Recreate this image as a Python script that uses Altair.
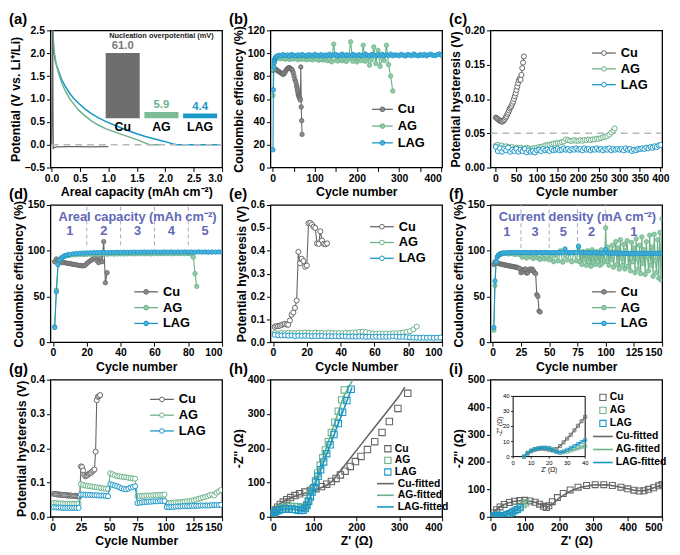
import altair as alt
import pandas as pd

FONT = "Liberation Sans"
CU, AG, LAG = "#666666", "#6cb289", "#1a96c7"
CU_F, AG_F, LAG_F = "#8c8c8c", "#92cba8", "#4db3dc"
REFGRAY = "#b8b8b8"
PURPLE = "#6268b6"
DASHV = "#a8a8c8"
W, H = 174, 139
ONE = pd.DataFrame({"k": [0]})

# ---------------- (a) potential vs areal capacity ----------------
a_cu_cap = [0.0, 0.02, 0.025, 0.03, 0.05, 0.10, 0.30, 0.50, 0.70, 0.90, 1.00]
a_cu_v = [-0.02, 2.60, 0.60, -0.08, -0.06, -0.05, -0.045, -0.045, -0.05, -0.045, -0.045]
a_ag_cap = [0.02, 0.03, 0.05, 0.08, 0.12, 0.18, 0.24, 0.32, 0.40, 0.48, 0.58, 0.70, 0.82,
            0.95, 1.08, 1.22, 1.36, 1.50, 1.62, 1.72, 1.90]
a_ag_v = [2.60, 2.30, 2.00, 1.78, 1.58, 1.35, 1.18, 1.00, 0.87, 0.75, 0.64, 0.52, 0.43,
          0.35, 0.29, 0.23, 0.17, 0.11, 0.05, 0.00, 0.00]
a_lag_cap = [0.01, 0.02, 0.04, 0.07, 0.12, 0.18, 0.24, 0.32, 0.40, 0.48, 0.58, 0.70, 0.82,
             0.95, 1.08, 1.22, 1.36, 1.50, 1.65, 1.80, 1.95, 2.05, 2.12, 2.20, 3.00]
a_lag_v = [2.60, 2.30, 2.00, 1.80, 1.62, 1.42, 1.28, 1.12, 1.00, 0.90, 0.79, 0.68, 0.59,
           0.51, 0.44, 0.37, 0.30, 0.24, 0.18, 0.13, 0.08, 0.05, 0.02, 0.00, 0.00]
a_zero_x = [0.0, 3.0]
a_zero_y = [0.0, 0.0]
nuc_cat = ["Cu", "AG", "LAG"]
nuc_val = [61.0, 5.9, 4.4]
nuc_txt = ["61.0", "5.9", "4.4"]

# ---------------- (b) CE, 400 cycles ----------------
b_cu_cyc = list(range(1, 56, 2)) + list(range(57, 71))
b_cu_ce = [85, 86, 86.5, 86, 85.5, 85, 84.5, 84, 83.5, 83, 82.5, 82, 81.5, 82, 83, 84.5,
           85.5, 86.5, 87, 87.5, 87, 86.5, 86, 85, 83, 80, 77, 75,
           72, 70, 68, 66, 64, 63, 62, 61, 60, 59, 88, 53, 41, 29]
b_ag_cyc = list(range(1, 11)) + list(range(15, 286, 5))
b_ag_ce = [63, 86, 91, 93, 94, 94.5, 95, 95, 95.5, 95.5,
           95.8, 95.2, 96.0, 94.8, 95.5, 94.6, 95.3, 94.9, 95.6, 94.4,
           95.1, 94.7, 95.4, 94.3, 95.0, 94.8, 94.2, 95.2, 94.6, 93.9,
           94.8, 94.1, 95.0, 93.6, 94.5, 92.5, 108.0, 94.0, 93.2, 95.1,
           93.4, 94.7, 92.8, 95.0, 110.0, 93.0, 96.5, 92.4, 94.8, 93.6,
           107.0, 93.0, 96.0, 89.5, 94.5, 105.5, 91.0, 102.5, 88.5, 96.0,
           93.5, 107.0, 90.0, 80.0, 67.0]
b_lag_cyc = list(range(1, 11)) + list(range(15, 401, 5))
b_lag_ce = [15.5, 68, 88, 92, 94, 95.5, 96, 96.5, 97, 97.5,
            98.2, 97.6, 98.8, 97.9, 98.5, 97.4, 98.9, 98.1, 97.7, 98.6,
            97.8, 98.9, 98.0, 97.5, 98.7, 98.3, 97.6, 99.0, 98.2, 97.9,
            98.8, 97.4, 98.5, 98.0, 99.1, 97.7, 98.4, 98.9, 97.6, 98.2,
            99.2, 97.8, 98.6, 98.1, 97.5, 99.0, 98.3, 97.9, 98.7, 98.0,
            97.6, 99.3, 98.2, 97.8, 98.9, 98.4, 97.5, 98.8, 98.1, 99.1,
            97.9, 98.5, 98.0, 99.2, 97.7, 98.6, 98.3, 97.8, 99.0, 98.2,
            97.6, 98.9, 98.4, 97.9, 99.3, 98.1, 97.7, 98.8, 98.0, 99.0,
            97.8, 98.6, 99.2, 98.1, 97.9, 98.7, 99.4, 98.3]

# ---------------- (c) hysteresis, 400 cycles ----------------
c_cu_cyc = list(range(1, 70, 2))
c_cu_hys = [0.073, 0.072, 0.071, 0.070, 0.069, 0.068, 0.068, 0.067, 0.067, 0.068, 0.069,
            0.071, 0.073, 0.075, 0.078, 0.080, 0.083, 0.086, 0.088, 0.090, 0.093, 0.096,
            0.100, 0.104, 0.108, 0.113, 0.118, 0.123, 0.127, 0.130, 0.128, 0.135, 0.145,
            0.153, 0.162]
c_ag_cyc = list(range(1, 287, 5)) + [289]
c_ag_hys = [0.032, 0.033, 0.031, 0.032, 0.030, 0.031, 0.030, 0.029, 0.030, 0.028,
            0.029, 0.028, 0.029, 0.027, 0.028, 0.029, 0.028, 0.027, 0.028, 0.028,
            0.029, 0.030, 0.030, 0.031, 0.032, 0.033, 0.033, 0.034, 0.035, 0.035,
            0.036, 0.036, 0.037, 0.038, 0.041, 0.040, 0.039, 0.039, 0.040, 0.039,
            0.039, 0.040, 0.039, 0.040, 0.040, 0.041, 0.040, 0.041, 0.041, 0.042,
            0.042, 0.043, 0.044, 0.045, 0.046, 0.048, 0.051, 0.054, 0.057]
c_lag_cyc = list(range(1, 401, 5)) + [400]
c_lag_hys = [0.030, 0.024, 0.028, 0.023, 0.027, 0.025, 0.029, 0.023, 0.026, 0.024,
             0.027, 0.023, 0.026, 0.024, 0.027, 0.022, 0.025, 0.023, 0.024, 0.022,
             0.025, 0.026, 0.024, 0.027, 0.025, 0.026, 0.024, 0.027, 0.025, 0.026,
             0.027, 0.025, 0.026, 0.028, 0.026, 0.027, 0.025, 0.027, 0.026, 0.028,
             0.026, 0.027, 0.025, 0.028, 0.026, 0.027, 0.025, 0.027, 0.026, 0.028,
             0.026, 0.027, 0.025, 0.027, 0.026, 0.028, 0.025, 0.027, 0.026, 0.027,
             0.026, 0.027, 0.025, 0.028, 0.026, 0.027, 0.024, 0.026, 0.025, 0.027,
             0.027, 0.028, 0.027, 0.029, 0.028, 0.030, 0.029, 0.031, 0.030, 0.032,
             0.033]

# ---------------- (d) CE, areal capacity steps ----------------
d_cu_cyc = list(range(1, 33))
d_cu_ce = [88, 91, 89, 88, 87.5, 87, 87, 86.5, 86, 86, 85.5, 85, 85, 84.5, 84, 84, 83.5,
           83.5, 84, 86, 87.5, 89, 90, 91.5, 93, 89, 87, 92, 88, 110, 65, 76]
d_ag_cyc = list(range(1, 11)) + list(range(12, 81, 2)) + list(range(81, 86))
d_ag_ce = [17, 57, 85, 90, 92, 93, 94, 94.5, 95, 95,
           95.5, 95.5, 96, 95.8, 96, 96.2, 96, 96.3, 96.1, 96.4, 96.2, 96.5, 96.3, 96.4,
           96.6, 96.4, 96.5, 96.7, 96.5, 96.6, 96.8, 96.6, 96.7, 96.5, 96.8, 96.6, 96.9,
           96.7, 96.8, 96.6, 96.9, 96.8, 97.0, 96.8, 96.9,
           96.8, 96.5, 93, 75, 61]
d_lag_cyc = list(range(1, 11)) + list(range(12, 101, 2))
d_lag_ce = [16, 55, 85, 90, 92, 93.5, 94.5, 95, 95.5, 96,
            96.5, 97, 97.2, 97.5, 97.6, 97.8, 97.9, 98, 98, 98.1,
            98, 98.2, 98.1, 98.3, 98.2, 98.4, 98.2, 98.3, 98.5, 98.3,
            98.4, 98.6, 98.4, 98.5, 98.7, 98.5, 98.4, 98.6, 98.5, 98.7,
            98.4, 98.6, 98.5, 98.7, 98.5, 98.6, 98.4, 98.7, 98.5, 98.6,
            98.4, 98.6, 98.5, 98.7, 98.5]
d_step_x = [20, 40, 60, 80]
d_num_x = [10, 30, 50, 70, 90]
d_num_t = ["1", "2", "3", "4", "5"]

# ---------------- (e) hysteresis, areal capacity steps ----------------
e_cu_cyc = list(range(1, 33))
e_cu_hys = [0.067, 0.070, 0.070, 0.072, 0.075, 0.078, 0.080, 0.077, 0.076, 0.095,
            0.120, 0.130, 0.150, 0.182, 0.395, 0.345, 0.365, 0.355, 0.330, 0.335,
            0.520, 0.522, 0.515, 0.505, 0.500, 0.432, 0.430, 0.485, 0.445, 0.430,
            0.428, 0.432]
e_ag_cyc = list(range(1, 86, 2))
e_ag_hys = [0.040, 0.038, 0.040, 0.039, 0.041, 0.040, 0.039, 0.041, 0.040, 0.042,
            0.041, 0.040, 0.042, 0.041, 0.040, 0.039, 0.041, 0.040, 0.039, 0.040,
            0.039, 0.041, 0.040, 0.042, 0.043, 0.045, 0.046, 0.044, 0.040, 0.038,
            0.037, 0.038, 0.037, 0.038, 0.037, 0.039, 0.038, 0.040, 0.042, 0.045,
            0.048, 0.056, 0.068]
e_lag_cyc = list(range(1, 101, 2))
e_lag_hys = [0.032, 0.030, 0.029, 0.030, 0.028, 0.029, 0.027, 0.028, 0.027, 0.028,
             0.027, 0.026, 0.027, 0.026, 0.027, 0.025, 0.026, 0.025, 0.026, 0.025,
             0.026, 0.025, 0.024, 0.025, 0.024, 0.025, 0.024, 0.023, 0.024, 0.023,
             0.024, 0.023, 0.024, 0.023, 0.024, 0.025, 0.024, 0.023, 0.024, 0.022,
             0.021, 0.020, 0.020, 0.019, 0.020, 0.019, 0.020, 0.019, 0.020, 0.020]

# ---------------- (f) CE, current density steps ----------------
f_cu_cyc = list(range(1, 43))
f_cu_ce = [85, 88, 87, 86.5, 86, 86, 85.5, 85, 85, 84.5, 84.5, 84, 84, 83.5, 83.5, 83, 83,
           82.5, 82.5, 82, 82, 81.5, 81, 80.5, 76, 79, 77, 79.5, 80, 75.5, 76, 79, 80,
           78.5, 80, 78, 76, 75, 52, 50, 34, 33]
f_ag_cyc = list(range(1, 11)) + list(range(12, 75, 2)) + list(range(76, 151))
f_ag_ce = [13, 62, 88, 93, 95, 96, 96.5, 96.5, 97, 97,
           97, 96.5, 97, 96.5, 96, 96.5, 96,
           93, 94, 92, 94.5, 93, 91.5, 94, 92, 90.5, 93.5, 91, 92.5, 90,
           94, 88, 95.5, 89, 100, 87.5, 96, 90, 97, 88, 98, 89,
           104, 88, 97, 85, 99, 90, 96, 84, 100, 88, 97, 83, 101, 87, 95, 85, 99, 88, 96,
           84, 101, 86, 97, 89, 125,
           88, 104, 84, 99, 90, 106, 82, 98, 110, 85,
           103, 80, 112, 92, 84, 107, 80, 100, 111, 83,
           96, 78, 109, 88, 103, 76, 113, 91, 80, 106,
           75, 115, 86, 101, 74, 110, 93, 78, 117, 84,
           104, 72, 118, 89, 76, 112, 70, 120, 68, 135]
f_lag_cyc = list(range(1, 11)) + list(range(12, 151, 2))
f_lag_ce = [16, 67, 88, 93, 95, 96, 96.5, 97, 97.5, 97.5,
            97.8, 98.0, 97.9, 98.1, 98.0, 98.2, 98.0, 97.9, 98.1, 98.0,
            97.8, 98.0, 97.9, 98.1, 97.8, 98.0, 97.9, 98.1, 98.0, 97.8,
            97.9, 98.0, 97.8, 98.1, 97.9, 98.0, 102.0, 97.9, 98.1, 97.8,
            98.0, 97.9, 105.0, 97.8, 98.0, 97.7, 97.9, 97.6, 97.8, 97.5,
            97.7, 97.5, 97.6, 97.4, 101.5, 97.5, 97.3, 97.5, 97.2, 97.4,
            97.3, 97.1, 97.3, 97.0, 97.2, 97.1, 97.0, 97.2, 97.0, 97.1,
            97.0, 97.2, 97.0, 96.9, 97.1, 97.0, 96.9, 97.1, 97.0, 97.0]
f_step_x = [25, 50, 75, 100]
f_num_x = [12.5, 37.5, 62.5, 87.5, 125]
f_num_t = ["1", "3", "5", "2", "1"]

# ---------------- (g) hysteresis, current density steps ----------------
g_cu_cyc = list(range(1, 43))
g_cu_hys = [0.067, 0.066, 0.066, 0.065, 0.065, 0.065, 0.064, 0.064, 0.064, 0.063, 0.063,
            0.063, 0.062, 0.062, 0.062, 0.062, 0.061, 0.061, 0.061, 0.061, 0.060, 0.060,
            0.060, 0.060,
            0.147, 0.145, 0.135, 0.122, 0.118, 0.120, 0.122, 0.125, 0.127, 0.128, 0.132,
            0.135, 0.138, 0.190, 0.340, 0.350, 0.352, 0.355]
g_ag_cyc = list(range(1, 150, 2))
g_ag_hys = [0.040, 0.040, 0.039, 0.039, 0.039, 0.038, 0.038, 0.038, 0.038, 0.038, 0.038, 0.038,
            0.095, 0.093, 0.091, 0.090, 0.089, 0.088, 0.087, 0.086, 0.085, 0.084, 0.083, 0.082, 0.081,
            0.127, 0.124, 0.121, 0.119, 0.118, 0.117, 0.116, 0.115, 0.114, 0.113, 0.112, 0.111,
            0.060, 0.060, 0.061, 0.061, 0.062, 0.062, 0.062, 0.063, 0.063, 0.063, 0.064, 0.064, 0.065,
            0.040, 0.040, 0.041, 0.041, 0.042, 0.042, 0.043, 0.043, 0.044, 0.045, 0.046, 0.047,
            0.048, 0.050, 0.052, 0.054, 0.056, 0.058, 0.060, 0.063, 0.065, 0.062, 0.070, 0.074, 0.078]
g_lag_cyc = list(range(1, 150, 2))
g_lag_hys = [0.028, 0.027, 0.027, 0.027, 0.026, 0.026, 0.026, 0.026, 0.026, 0.026, 0.026, 0.026,
             0.065, 0.065, 0.064, 0.064, 0.064, 0.063, 0.063, 0.063, 0.062, 0.062, 0.062, 0.061, 0.060,
             0.095, 0.093, 0.091, 0.089, 0.086, 0.083, 0.081, 0.080, 0.082, 0.085, 0.087, 0.089,
             0.040, 0.041, 0.042, 0.043, 0.043, 0.044, 0.044, 0.045, 0.045, 0.045, 0.046, 0.046, 0.046,
             0.028, 0.028, 0.029, 0.029, 0.030, 0.030, 0.030, 0.031, 0.031, 0.031, 0.031, 0.032,
             0.032, 0.032, 0.032, 0.033, 0.033, 0.033, 0.033, 0.033, 0.034, 0.034, 0.034, 0.034, 0.035]

# ---------------- (h) Nyquist ----------------
h_cu_zre = [5, 8, 12, 17, 23, 30, 38, 47, 57, 68, 80, 93, 106, 119, 131, 142, 153, 163, 174,
            186, 198, 211, 226, 243, 260, 277, 297, 320]
h_cu_zim = [4, 12, 20, 28, 36, 43, 50, 56, 62, 67, 72, 77, 82, 88, 95, 103, 112, 122, 133,
            147, 161, 176, 196, 219, 246, 278, 316, 360]
h_cu_fit_zre = [2, 6, 12, 25, 40, 55, 75, 93, 112, 131, 145, 154, 180, 210, 240, 270, 300, 313]
h_cu_fit_zim = [0, 17, 28, 40, 51, 59, 67, 73, 82, 92, 105, 120, 161, 209, 257, 304, 352, 378]
h_ag_zre = [4, 8, 14, 21, 29, 38, 47, 56, 64, 71, 76, 80, 84, 88, 93, 99, 105, 110, 116, 122,
            128, 135, 142, 150, 158, 166, 172]
h_ag_zim = [4, 11, 18, 23, 27, 29, 30, 30, 29, 27, 26, 28, 35, 45, 62, 82, 105, 127, 150, 172,
            195, 219, 246, 276, 308, 341, 370]
h_ag_fit_zre = [2, 10, 20, 30, 40, 50, 60, 68, 75, 80, 90, 110, 130, 150, 170, 192]
h_ag_fit_zim = [0, 14, 22, 27, 29.5, 30, 29, 27, 26, 28, 50, 125, 200, 275, 350, 400]
h_lag_zre = [3, 6, 10, 15, 21, 28, 35, 43, 51, 58, 65, 71, 76, 81, 85, 89, 93, 97, 101, 106,
             111, 117, 124, 131, 139, 148, 158, 168, 178, 188]
h_lag_zim = [3, 8, 13, 17, 20, 22, 23, 23, 22, 21, 19, 18, 19, 24, 33, 45, 58, 72, 85, 101,
             118, 137, 160, 184, 210, 240, 272, 305, 339, 372]
h_lag_fit_zre = [2, 10, 20, 30, 40, 50, 60, 68, 75, 82, 88, 100, 120, 140, 160, 180, 190]
h_lag_fit_zim = [0, 12, 19, 22, 23, 22.5, 21, 19, 18, 22, 40, 80, 146, 212, 278, 344, 377]

# ---------------- (i) Nyquist wide + inset ----------------
i_cu_zre = [5, 10, 18, 28, 40, 55, 70, 85, 100, 115, 130, 143, 155, 163, 170, 180, 195, 212,
            232, 255, 280, 305, 330, 355, 380, 400, 418, 433, 447, 460, 475, 490, 500]
i_cu_zim = [5, 15, 26, 36, 45, 52, 57, 59, 60, 58, 53, 46, 38, 34, 40, 55, 70, 85, 98, 108,
            114, 117, 117, 114, 108, 102, 97, 94, 95, 100, 106, 113, 118]
i_cu_fit_zre = [0, 10, 25, 45, 70, 100, 130, 150, 165, 180, 200, 230, 260, 300, 340, 380, 420,
                440, 460, 480, 500]
i_cu_fit_zim = [0, 18, 35, 48, 57, 60, 53, 42, 35, 45, 68, 92, 107, 116, 117, 108, 97, 94,
                99, 108, 116]
i_ag_zre = [6, 8, 12, 17, 22, 27, 33, 40, 48, 56, 65, 75, 85, 95, 103]
i_ag_zim = [0, 2, 4, 5.5, 6, 5, 4, 5, 7, 12, 18, 26, 35, 44, 50]
i_lag_zre = [6, 8, 12, 17, 22, 27, 33, 40, 47, 55, 63, 71, 79, 87]
i_lag_zim = [0, 2, 4, 5.5, 6, 4, 3.5, 5, 8, 12, 17, 22, 27, 33]
ins_zre = [6, 8, 10, 12, 14, 16, 18, 20, 22, 24, 26, 28, 30, 32, 34, 36, 38, 40]
ins_cu_zim = [0, 2, 3.5, 4.5, 5, 5.2, 5, 4.5, 4, 5, 7, 9.5, 12, 14.5, 17.5, 20.5, 23.5, 26.5]
ins_ag_zim = [0, 2.5, 4, 5, 5.6, 6, 6, 5.8, 5, 3.5, 2.5, 2.8, 3.3, 4, 4.8, 5.5, 6.3, 7]
ins_lag_zim = [0, 2.5, 4, 5, 5.5, 5.8, 5.8, 5.5, 4.5, 3, 2.8, 3.5, 4.5, 5.8, 7, 8.3, 9.7, 11]
ins_ticks = [0, 10, 20, 30, 40]


# ================= helpers =================
def df_xy(xs, ys):
    n = min(len(xs), len(ys))
    return pd.DataFrame({"x": list(xs)[:n], "y": list(ys)[:n], "i": list(range(n))})


def X(title, domain, values, fmt):
    return alt.X("x:Q", title=title,
                 scale=alt.Scale(domain=domain, nice=False, zero=False),
                 axis=alt.Axis(values=values, format=fmt))


def Y(title, domain, values, fmt):
    return alt.Y("y:Q", title=title,
                 scale=alt.Scale(domain=domain, nice=False, zero=False),
                 axis=alt.Axis(values=values, format=fmt))


def line(df, color, x, y, width=1.1, dash=None):
    kw = dict(color=color, strokeWidth=width, clip=True)
    if dash:
        kw["strokeDash"] = dash
    return alt.Chart(df).mark_line(**kw).encode(x=x, y=y, order="i:Q")


def pts(df, x, y, stroke, fill=None, shape="circle", size=20, sw=0.9):
    kw = dict(shape=shape, size=size, stroke=stroke, strokeWidth=sw, opacity=1, clip=True)
    if fill:
        kw.update(fill=fill, fillOpacity=1, filled=False)
    else:
        kw.update(filled=False)
    return alt.Chart(df).mark_point(**kw).encode(x=x, y=y)


def txt(text, **kw):
    base = dict(text=text, font=FONT, fontWeight="bold", color="black")
    base.update(kw)
    return alt.Chart(ONE).mark_text(**base)


def plabel(t):
    return txt(t, fontSize=15, align="left", baseline="alphabetic").encode(
        x=alt.value(-42), y=alt.value(-6))


def legend_lp(entries, x0, x1, tx, y0, dy, open_marker, fs=13, size=22):
    layers = []
    for k, (lab, col, fil) in enumerate(entries):
        yy = y0 + k * dy
        layers.append(alt.Chart(ONE).mark_rule(color=col, strokeWidth=1.3).encode(
            x=alt.value(x0), x2=alt.value(x1), y=alt.value(yy)))
        layers.append(alt.Chart(ONE).mark_point(
            shape="circle", size=size, stroke=col, strokeWidth=1,
            fill=("white" if open_marker else fil), fillOpacity=1, opacity=1, filled=False
        ).encode(x=alt.value((x0 + x1) / 2), y=alt.value(yy)))
        layers.append(txt(lab, fontSize=fs, align="left", baseline="middle").encode(
            x=alt.value(tx), y=alt.value(yy)))
    return layers


def legend_eis(sq_x, sq_tx, l0, l1, l_tx, y0, dy, fs=10.5):
    layers = []
    sq = [("Cu", CU), ("AG", AG), ("LAG", LAG)]
    for k, (lab, col) in enumerate(sq):
        yy = y0 + k * dy
        layers.append(alt.Chart(ONE).mark_point(shape="square", size=40, stroke=col,
                                                strokeWidth=1.1, filled=False, opacity=1)
                      .encode(x=alt.value(sq_x), y=alt.value(yy)))
        layers.append(txt(lab, fontSize=fs, align="left", baseline="middle").encode(
            x=alt.value(sq_tx), y=alt.value(yy)))
    for k, (lab, col) in enumerate(sq):
        yy = y0 + (k + 3) * dy
        layers.append(alt.Chart(ONE).mark_rule(color=col, strokeWidth=1.6).encode(
            x=alt.value(l0), x2=alt.value(l1), y=alt.value(yy)))
        layers.append(txt(lab + "-fitted", fontSize=fs, align="left", baseline="middle").encode(
            x=alt.value(l_tx), y=alt.value(yy)))
    return layers


def cycle_panel(series, x, y, filled, leg, label, under=()):
    layers = list(under)
    for cyc, vals, col, fil in series:
        d = df_xy(cyc, vals)
        layers.append(line(d, col, x, y, width=1.1))
        if filled:
            layers.append(pts(d, x, y, col, fill=fil, size=20, sw=0.8))
        else:
            layers.append(pts(d, x, y, col, fill="white", size=26, sw=1.0))
    layers += leg
    layers.append(plabel(label))
    return alt.layer(*layers).properties(width=W, height=H)


# ================= (a) =================
xa = X("Areal capacity (mAh cm⁻²)", [-0.02, 3.0], [0, 0.5, 1.0, 1.5, 2.0, 2.5, 3.0], ".1f")
ya = Y("Potential (V vs. Li⁺/Li)", [-0.5, 2.5], [-0.5, 0, 0.5, 1.0, 1.5, 2.0, 2.5], ".1f")
a_main = alt.layer(
    line(df_xy(a_lag_cap, a_lag_v), LAG, xa, ya, width=1.5),
    line(df_xy(a_ag_cap, a_ag_v), AG, xa, ya, width=1.5),
    line(df_xy(a_cu_cap, a_cu_v), CU, xa, ya, width=1.3),
    line(df_xy(a_zero_x, a_zero_y), REFGRAY, xa, ya, width=1.6, dash=[7, 5]),
    plabel("(a)"),
)
nuc_df = pd.DataFrame({"cat": nuc_cat, "val": nuc_val, "txt": nuc_txt})
IXa = alt.X("cat:N", sort=nuc_cat, axis=None,
            scale=alt.Scale(domain=nuc_cat, range=[56, 169], paddingInner=0.12, paddingOuter=0))
IYa = alt.Y("val:Q", axis=None, scale=alt.Scale(domain=[0, 61], range=[89, 23], nice=False))
ICa = alt.Color("cat:N", legend=None,
                scale=alt.Scale(domain=nuc_cat, range=["#6e6e6e", "#7cbb96", "#1a98c8"]))
ICt = alt.Color("cat:N", legend=None,
                scale=alt.Scale(domain=nuc_cat, range=["#7a7a7a", "#6cb289", "#1a98c8"]))
a_inset = alt.layer(
    alt.Chart(nuc_df).mark_bar().encode(x=IXa, y=IYa, color=ICa),
    alt.Chart(nuc_df).mark_text(font=FONT, fontWeight="bold", fontSize=11.5, dy=-7)
    .encode(x=IXa, y=IYa, text="txt:N", color=ICt),
    alt.Chart(nuc_df).mark_text(font=FONT, fontWeight="bold", fontSize=12.5, baseline="top",
                                dy=3, color="black")
    .encode(x=IXa, y=alt.YDatum(0, axis=None), text="cat:N"),
    alt.Chart(pd.DataFrame({"cat": ["AG"]})).mark_text(
        text="Nucleation overpotential (mV)", font=FONT, fontWeight="bold", fontSize=7.5,
        color="#222222", dy=-17).encode(x=IXa, y=alt.YDatum(61, axis=None)),
).resolve_scale(color="independent")
panel_a = alt.layer(a_main, a_inset).resolve_scale(
    x="independent", y="independent").properties(width=W, height=H)

# ================= (b) =================
xb = X("Cycle number", [-5, 402], list(range(0, 401, 50)), "d")
yb = Y("Coulombic efficiency (%)", [0, 120], list(range(0, 121, 20)), "d")
panel_b = cycle_panel(
    [(b_cu_cyc, b_cu_ce, CU, CU_F), (b_ag_cyc, b_ag_ce, AG, AG_F), (b_lag_cyc, b_lag_ce, LAG, LAG_F)],
    xb, yb, True,
    legend_lp([("Cu", CU, CU_F), ("AG", AG, AG_F), ("LAG", LAG, LAG_F)], 103, 124, 129, 80, 17, False),
    "(b)")

# ================= (c) =================
xc = X("Cycle number", [-12, 404], list(range(0, 401, 50)), "d")
yc = Y("Potential hysteresis (V)", [0, 0.2], [0, 0.05, 0.10, 0.15, 0.20], ".2f")
c_ref = line(df_xy([-12, 404], [0.05, 0.05]), REFGRAY, xc, yc, width=1.6, dash=[7, 5])
panel_c = cycle_panel(
    [(c_cu_cyc, c_cu_hys, CU, CU_F), (c_ag_cyc, c_ag_hys, AG, AG_F), (c_lag_cyc, c_lag_hys, LAG, LAG_F)],
    xc, yc, False,
    legend_lp([("Cu", CU, CU_F), ("AG", AG, AG_F), ("LAG", LAG, LAG_F)], 103, 127, 132, 23, 16, True),
    "(c)", under=[c_ref])


# ================= (d) =================
def step_annot(x, y, steps, nums_x, nums_t, head, head_x, y_lo, y_num, y_head):
    sdf = pd.DataFrame({"x": steps})
    ndf = pd.DataFrame({"x": nums_x, "t": nums_t})
    hdf = pd.DataFrame({"x": [head_x]})
    return [
        alt.Chart(sdf).mark_rule(color=DASHV, strokeWidth=1, strokeDash=[4, 3]).encode(
            x=x, y=alt.YDatum(y_lo), y2=alt.Y2Datum(150)),
        alt.Chart(ndf).mark_text(font=FONT, fontWeight="bold", fontSize=13, color=PURPLE).encode(
            x=x, y=alt.YDatum(y_num), text="t:N"),
        alt.Chart(hdf).mark_text(text=head, font=FONT, fontWeight="bold", fontSize=13,
                                 color=PURPLE).encode(x=x, y=alt.YDatum(y_head)),
    ]


xd = X("Cycle number", [-1.5, 100], list(range(0, 101, 20)), "d")
yd = Y("Coulombic efficiency (%)", [0, 150], list(range(0, 151, 25)), "d")
panel_d = cycle_panel(
    [(d_cu_cyc, d_cu_ce, CU, CU_F), (d_ag_cyc, d_ag_ce, AG, AG_F), (d_lag_cyc, d_lag_ce, LAG, LAG_F)],
    xd, yd, True,
    legend_lp([("Cu", CU, CU_F), ("AG", AG, AG_F), ("LAG", LAG, LAG_F)], 85, 109, 114, 88, 16, False),
    "(d)",
    under=step_annot(xd, yd, d_step_x, d_num_x, d_num_t, "Areal capacity (mAh cm⁻²)", 50, 106, 121, 137))

# ================= (e) =================
xe = X("Cycle Number", [-1.5, 100], list(range(0, 101, 20)), "d")
ye = Y("Potential hysteresis (V)", [0, 0.6], [0, 0.1, 0.2, 0.3, 0.4, 0.5, 0.6], ".1f")
panel_e = cycle_panel(
    [(e_cu_cyc, e_cu_hys, CU, CU_F), (e_ag_cyc, e_ag_hys, AG, AG_F), (e_lag_cyc, e_lag_hys, LAG, LAG_F)],
    xe, ye, False,
    legend_lp([("Cu", CU, CU_F), ("AG", AG, AG_F), ("LAG", LAG, LAG_F)], 101, 125, 130, 22, 16, True),
    "(e)")

# ================= (f) =================
xf = X("Cycle number", [-2, 150], list(range(0, 151, 25)), "d")
yf = Y("Coulombic efficiency (%)", [0, 150], list(range(0, 151, 25)), "d")
panel_f = cycle_panel(
    [(f_cu_cyc, f_cu_ce, CU, CU_F), (f_ag_cyc, f_ag_ce, AG, AG_F), (f_lag_cyc, f_lag_ce, LAG, LAG_F)],
    xf, yf, True,
    legend_lp([("Cu", CU, CU_F), ("AG", AG, AG_F), ("LAG", LAG, LAG_F)], 103, 127, 132, 88, 16, False),
    "(f)",
    under=step_annot(xf, yf, f_step_x, f_num_x, f_num_t, "Current density (mA cm⁻²)", 75, 103, 120, 137))

# ================= (g) =================
xg = X("Cycle Number", [-2, 150], list(range(0, 151, 25)), "d")
yg = Y("Potential hysteresis (V)", [0, 0.4], [0, 0.1, 0.2, 0.3, 0.4], ".1f")
panel_g = cycle_panel(
    [(g_cu_cyc, g_cu_hys, CU, CU_F), (g_ag_cyc, g_ag_hys, AG, AG_F), (g_lag_cyc, g_lag_hys, LAG, LAG_F)],
    xg, yg, False,
    legend_lp([("Cu", CU, CU_F), ("AG", AG, AG_F), ("LAG", LAG, LAG_F)], 101, 125, 130, 20, 16, True),
    "(g)")

# ================= (h) =================
xh = X("Z' (Ω)", [0, 400], [0, 100, 200, 300, 400], "d")
yh = Y("-Z'' (Ω)", [0, 400], [0, 100, 200, 300, 400], "d")
h_layers = []
for (zr, zi, fr, fi, col) in [(h_cu_zre, h_cu_zim, h_cu_fit_zre, h_cu_fit_zim, CU),
                              (h_ag_zre, h_ag_zim, h_ag_fit_zre, h_ag_fit_zim, AG),
                              (h_lag_zre, h_lag_zim, h_lag_fit_zre, h_lag_fit_zim, LAG)]:
    h_layers.append(pts(df_xy(zr, zi), xh, yh, col, shape="square", size=42, sw=1.1))
    h_layers.append(line(df_xy(fr, fi), col, xh, yh, width=1.6))
h_layers += legend_eis(119, 126, 108, 125, 129, 70, 11.8)
h_layers.append(plabel("(h)"))
panel_h = alt.layer(*h_layers).properties(width=W, height=H)

# ================= (i) =================
xi = X("Z' (Ω)", [0, 500], [0, 100, 200, 300, 400, 500], "d")
yi = Y("-Z'' (Ω)", [0, 500], [0, 100, 200, 300, 400, 500], "d")
i_layers = []
for (zr, zi, fr, fi, col) in [(i_cu_zre, i_cu_zim, i_cu_fit_zre, i_cu_fit_zim, CU),
                              (i_ag_zre, i_ag_zim, i_ag_zre, i_ag_zim, AG),
                              (i_lag_zre, i_lag_zim, i_lag_zre, i_lag_zim, LAG)]:
    i_layers.append(pts(df_xy(zr, zi), xi, yi, col, shape="square", size=36, sw=1.1))
    i_layers.append(line(df_xy(fr, fi), col, xi, yi, width=1.6))
i_layers += legend_eis(114, 121, 104, 124, 127, 18, 13.2)
i_layers.append(plabel("(i)"))
i_main = alt.layer(*i_layers)

IXs = alt.Scale(domain=[0, 40], range=[23, 96], nice=False, zero=False)
IYs = alt.Scale(domain=[0, 40], range=[78, 17], nice=False, zero=False)
ixe = alt.X("x:Q", scale=IXs, axis=None)
iye = alt.Y("y:Q", scale=IYs, axis=None)
tick_df = pd.DataFrame({"v": ins_ticks, "t": [str(v) for v in ins_ticks]})
ins_layers = [
    alt.Chart(ONE).mark_rect(fill="white", stroke="black", strokeWidth=1).encode(
        x=alt.XDatum(0, scale=IXs, axis=None), x2=alt.X2Datum(40),
        y=alt.YDatum(0, scale=IYs, axis=None), y2=alt.Y2Datum(40)),
    alt.Chart(tick_df).mark_rule(color="black", strokeWidth=0.8).encode(
        x=alt.X("v:Q", scale=IXs, axis=None), y=alt.YDatum(0, scale=IYs, axis=None),
        y2=alt.Y2Datum(-1.4)),
    alt.Chart(tick_df).mark_rule(color="black", strokeWidth=0.8).encode(
        y=alt.Y("v:Q", scale=IYs, axis=None), x=alt.XDatum(0, scale=IXs, axis=None),
        x2=alt.X2Datum(-1.2)),
    alt.Chart(tick_df).mark_text(font=FONT, fontSize=6, baseline="top", color="black").encode(
        x=alt.X("v:Q", scale=IXs, axis=None), y=alt.YDatum(-2.2, scale=IYs, axis=None), text="t:N"),
    alt.Chart(tick_df).mark_text(font=FONT, fontSize=6, align="right", baseline="middle",
                                 color="black").encode(
        y=alt.Y("v:Q", scale=IYs, axis=None), x=alt.XDatum(-2.0, scale=IXs, axis=None), text="t:N"),
    alt.Chart(ONE).mark_text(text="Z' (Ω)", font=FONT, fontSize=6.5, color="black").encode(
        x=alt.XDatum(20, scale=IXs, axis=None), y=alt.YDatum(-9, scale=IYs, axis=None)),
    alt.Chart(ONE).mark_text(text="-Z'' (Ω)", font=FONT, fontSize=6.5, angle=270,
                             color="black").encode(
        x=alt.XDatum(-7.5, scale=IXs, axis=None), y=alt.YDatum(20, scale=IYs, axis=None)),
]
for zim, col in [(ins_cu_zim, CU), (ins_ag_zim, AG), (ins_lag_zim, LAG)]:
    d = df_xy(ins_zre, zim)
    ins_layers.append(alt.Chart(d).mark_point(shape="square", size=10, stroke=col,
                                              strokeWidth=0.8, filled=False, opacity=1)
                      .encode(x=ixe, y=iye))
    ins_layers.append(alt.Chart(d).mark_line(color=col, strokeWidth=1.2).encode(
        x=ixe, y=iye, order="i:Q"))
i_inset = alt.layer(*ins_layers)
panel_i = alt.layer(i_main, i_inset).resolve_scale(
    x="independent", y="independent").properties(width=W, height=H)

# ================= assemble =================
chart = alt.concat(
    panel_a, panel_b, panel_c,
    panel_d, panel_e, panel_f,
    panel_g, panel_h, panel_i,
    columns=3, spacing={"row": 38, "column": 49}, bounds="flush",
).properties(
    padding={"left": 0, "top": 0, "right": 2, "bottom": 0}
).configure_axis(
    labelFont=FONT, labelFontSize=10.5, labelFontWeight="bold", labelColor="black",
    titleFont=FONT, titleFontSize=12.5, titleFontWeight="bold", titleColor="black",
    domain=False, grid=False, tickColor="black", tickSize=4, tickWidth=1,
    labelPadding=2, titlePadding=2,
).configure_view(stroke="black", strokeWidth=1.3)

chart.save("out.html", embed_options={"renderer": "svg", "actions": False})
